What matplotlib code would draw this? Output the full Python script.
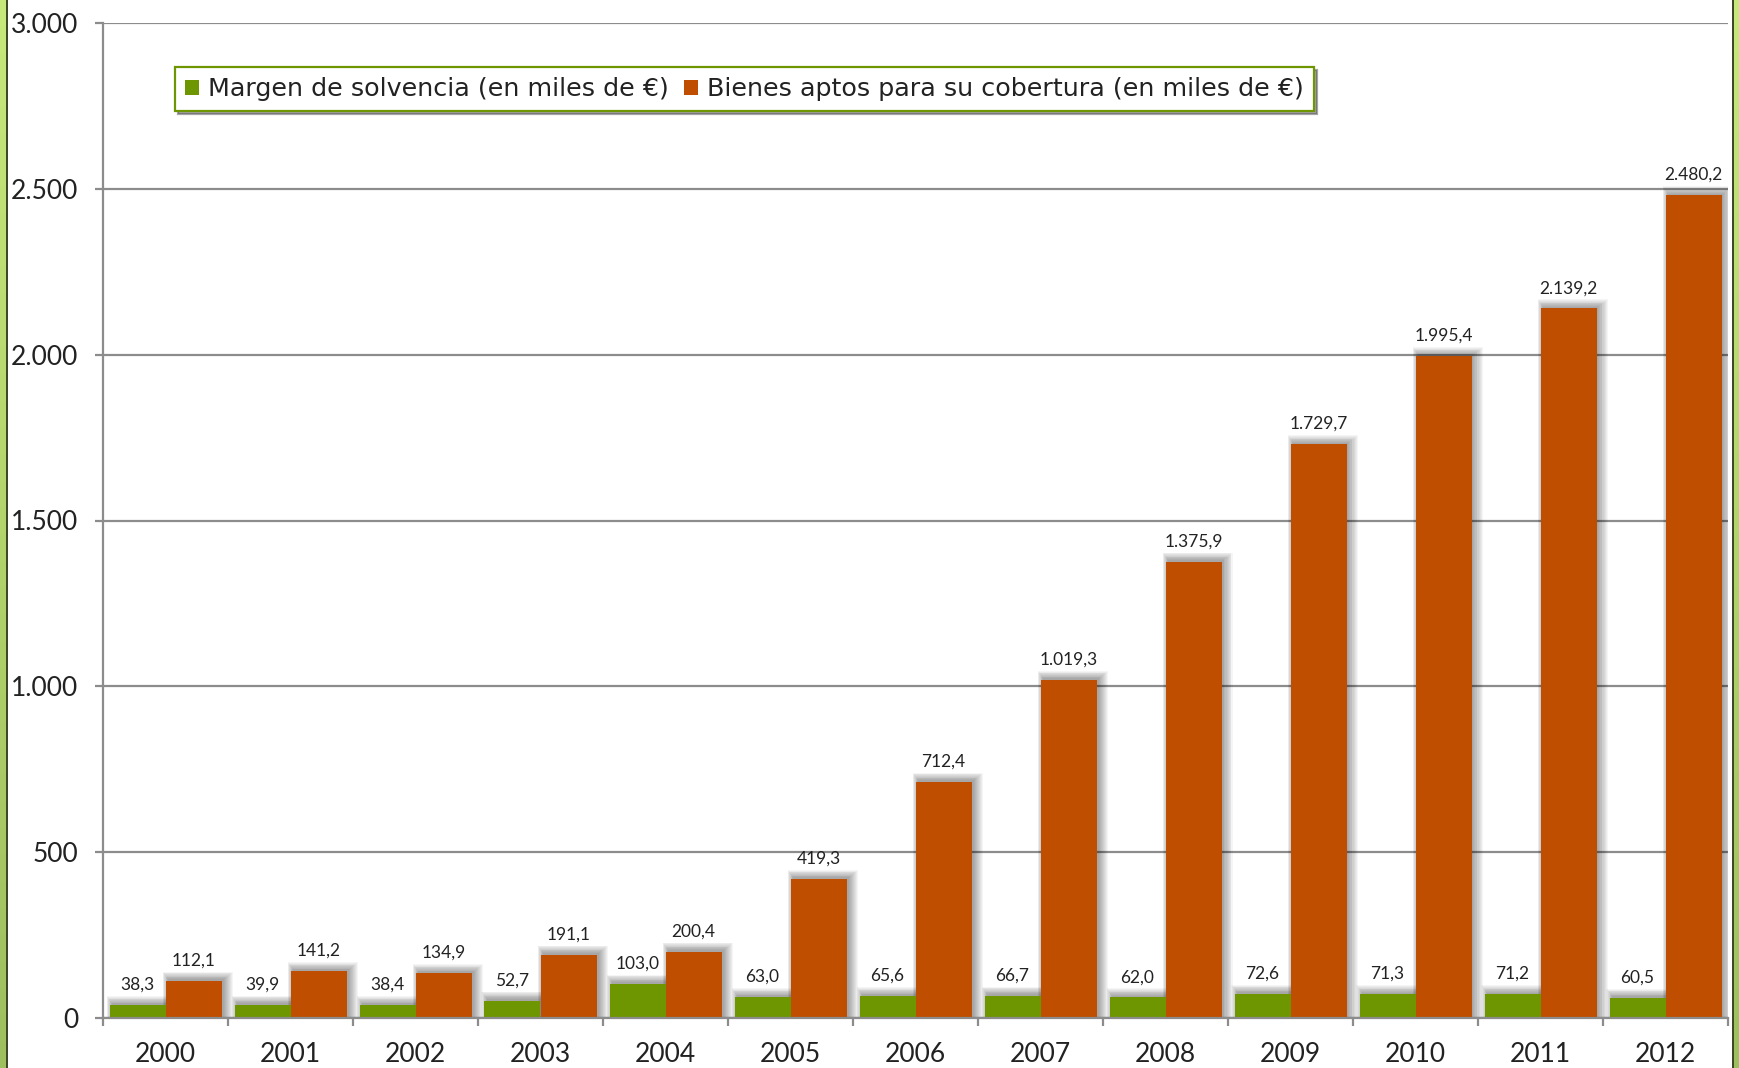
import matplotlib
matplotlib.use("Agg")
import matplotlib.pyplot as plt
from matplotlib.patches import Rectangle
import numpy as np

years = ["2000", "2001", "2002", "2003", "2004", "2005", "2006",
         "2007", "2008", "2009", "2010", "2011", "2012"]
margen = [38.3, 39.9, 38.4, 52.7, 103.0, 63.0, 65.6, 66.7, 62.0, 72.6, 71.3, 71.2, 60.5]
bienes = [112.1, 141.2, 134.9, 191.1, 200.4, 419.3, 712.4, 1019.3, 1375.9, 1729.7,
          1995.4, 2139.2, 2480.2]
series_names = ["Margen de solvencia (en miles de €)",
                "Bienes aptos para su cobertura (en miles de €)"]
yticks = [0, 500, 1000, 1500, 2000, 2500, 3000]

GREEN = "#6E9600"
ORANGE = "#BF4E00"
GRID = "#8C8C8C"
FONT = ["Lato", "DejaVu Sans"]
plt.rcParams["font.family"] = FONT

W, H = 1739, 1068
fig = plt.figure(figsize=(W / 100, H / 100), dpi=100)
fig.patch.set_facecolor("white")

ax_l, ax_r, ax_t, ax_b = 103, 1728, 23, 1018
ax = fig.add_axes([ax_l / W, 1 - ax_b / H, (ax_r - ax_l) / W, (ax_b - ax_t) / H])
ax.set_xlim(-0.5, len(years) - 0.5)
ax.set_ylim(0, 3000)

px_x = (len(years)) / (ax_r - ax_l)
px_y = 3000 / (ax_b - ax_t)

bw = 0.448
x = np.arange(len(years))


def fmt(v):
    s = f"{v:,.1f}"
    return s.replace(",", "X").replace(".", ",").replace("X", ".")


def shadow(xc, h):
    for k in range(1, 11):
        left = xc - bw / 2 + 3 * px_x - 0.6 * k * px_x
        right = xc + bw / 2 + 1 * px_x + k * px_x
        ax.add_patch(Rectangle((left, 0), right - left, h + 1 * px_y + 0.8 * k * px_y,
                               facecolor="black", alpha=0.04, edgecolor="none", zorder=2))


for i in range(len(years)):
    shadow(x[i] - bw / 2, margen[i])
    shadow(x[i] + bw / 2, bienes[i])

ax.bar(x - bw / 2, margen, width=bw, color=GREEN, zorder=3, label=series_names[0])
ax.bar(x + bw / 2, bienes, width=bw, color=ORANGE, zorder=3, label=series_names[1])

for i in range(len(years)):
    for xc, v in ((x[i] - bw / 2, margen[i]), (x[i] + bw / 2, bienes[i])):
        ax.annotate(fmt(v), (xc, v), xytext=(0, 11), textcoords="offset points",
                    ha="center", va="baseline", fontsize=12.5, color="#222222", zorder=5)

ax.set_yticks(yticks)
ax.set_yticklabels([fmt(v)[:-2] for v in yticks])
ax.yaxis.grid(True, color=GRID, linewidth=1.6, zorder=0)
ax.set_axisbelow(True)

ax.set_xticks(x)
ax.set_xticklabels(years)
ax.set_xticks(np.arange(-0.5, len(years)), minor=True)
ax.tick_params(axis="x", which="major", length=0, pad=17, labelsize=19, labelcolor="#222222")
ax.tick_params(axis="x", which="minor", length=6, width=1.6, color=GRID, direction="out")
ax.tick_params(axis="y", length=6, width=1.6, color=GRID, pad=12, labelsize=19,
               labelcolor="#222222")

for s in ("top", "right"):
    ax.spines[s].set_visible(False)
for s in ("left", "bottom"):
    ax.spines[s].set_color(GRID)
    ax.spines[s].set_linewidth(1.6)
    ax.spines[s].set_zorder(4)

handles, labels = ax.get_legend_handles_labels()
leg = fig.legend(handles, labels, loc="upper left", bbox_to_anchor=(175 / W, 1 - 67 / H),
                 bbox_transform=fig.transFigure, ncol=2, frameon=True,
                 prop={"family": ["DejaVu Sans"], "size": 18.3},
                 fancybox=False, shadow=True, borderaxespad=0, handlelength=0.55,
                 handleheight=0.55, handletextpad=0.35, columnspacing=0.6,
                 borderpad=0.4)
leg.get_frame().set_edgecolor(GREEN)
leg.get_frame().set_linewidth(1.6)
for t in leg.get_texts():
    t.set_color("#222222")

# figure side borders
n = 40
for j in range(n):
    y0 = j / n
    c = np.array([0.62, 0.75, 0.37]) * (1 - y0) + np.array([0.78, 0.91, 0.48]) * y0
    fig.patches.append(Rectangle((0, y0), 6 / W, 1 / n, transform=fig.transFigure,
                                 facecolor=c, edgecolor="none", zorder=10))
    fig.patches.append(Rectangle((1734 / W, y0), 5 / W, 1 / n, transform=fig.transFigure,
                                 facecolor=c, edgecolor="none", zorder=10))
fig.patches.append(Rectangle((6 / W, 0), 2 / W, 1, transform=fig.transFigure,
                             facecolor="#3d4a25", edgecolor="none", zorder=10))
fig.patches.append(Rectangle((1732 / W, 0), 2 / W, 1, transform=fig.transFigure,
                             facecolor="#3d4a25", edgecolor="none", zorder=10))

fig.savefig("out.png", dpi=100)
